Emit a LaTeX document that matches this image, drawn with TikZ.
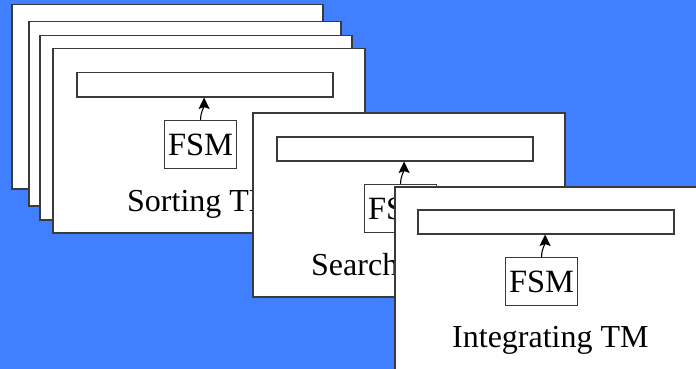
\documentclass[tikz,border=0pt]{standalone}
\usepackage{fontspec}
\setmainfont{Liberation Serif}
\usetikzlibrary{arrows.meta}
\definecolor{bg}{HTML}{4080FF}
\definecolor{ln}{HTML}{3A3A3A}
\begin{document}
\begin{tikzpicture}[x=1pt,y=-1pt,
 card/.style={draw=ln,fill=white,line width=1.5pt,anchor=north west,inner sep=0pt,minimum width=312pt,minimum height=184pt},
 tape/.style={draw=ln,fill=white,line width=1.5pt,anchor=north west,inner sep=0pt,minimum width=256pt,minimum height=24pt},
 fsm/.style={draw=ln,fill=white,line width=1.2pt,anchor=north west,minimum width=72pt,minimum height=48pt,inner sep=0pt,font=\fontsize{32.5}{32.5}\selectfont},
 lbl/.style={anchor=base west,inner sep=0pt,font=\fontsize{32}{32}\selectfont},
 head/.style={-{Stealth[length=11.5pt,width=11pt,inset=2pt]},line width=1.1pt,black}]
\useasboundingbox (0,0) rectangle (696,369);
\fill[bg] (0,0) rectangle (696,369);
\begin{scope}
\clip (0,0) rectangle (696,369);
% stacked back cards
\node[card,minimum width=311pt] (b1) at (11,4) {};
\node[card] (b2) at (28,21) {};
\node[card] (b3) at (39,35) {};
% Sorting TM
\node[card] (c1) at (52,48) {};
\node[tape] (t1) at (76,72) {};
\node[fsm] (f1) at (164,120) {FSM};
\draw[head] (f1.north) .. controls +(0,-9) and +(0,10) .. ([xshift=3.5pt]f1.north |- t1.south);
\node[lbl] (l1) at (127,211) {Sorting TM};
% Searching TM
\node[card] (c2) at (252,112) {};
\node[tape] (t2) at (276,136) {};
\node[fsm] (f2) at (364,184) {FSM};
\draw[head] (f2.north) .. controls +(0,-9) and +(0,10) .. ([xshift=3.5pt]f2.north |- t2.south);
\node[lbl] (l2) at (311,275) {Searching TM};
% Integrating TM
\node[card] (c3) at (394,186) {};
\node[tape] (t3) at (417,209) {};
\node[fsm] (f3) at (505,257) {FSM};
\draw[head] (f3.north) .. controls +(0,-9) and +(0,10) .. ([xshift=3.5pt]f3.north |- t3.south);
\node[lbl] (l3) at (452,347) {Integrating TM};
\end{scope}
\end{tikzpicture}
\end{document}
